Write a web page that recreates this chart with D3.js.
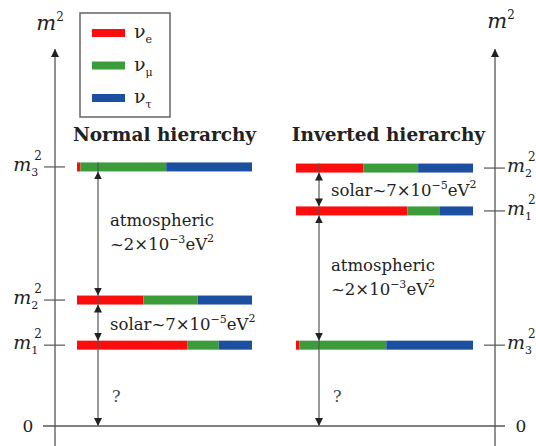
<!DOCTYPE html>
<html>
<head>
<meta charset="utf-8">
<script src="https://cdn.jsdelivr.net/npm/d3@7"></script>
<style>
  body { margin: 0; background: #fff; }
  svg { display: block; font-family: "DejaVu Serif", "Liberation Serif", serif; }
</style>
</head>
<body>
<svg id="chart" width="536" height="446"></svg>
<script>
// flavours and their colours
const flavors = ["e", "μ", "τ"];
const flavorColors = ["#fb0d0d", "#3c9c3c", "#1c4f9f"];

// mass states and flavour content of each one
const states = ["1", "2", "3"];
const m1Mix = [0.63, 0.18, 0.19];
const m2Mix = [0.38, 0.31, 0.31];
const m3Mix = [0.02, 0.49, 0.49];

// m^2 level of each state (arbitrary units, not to scale)
const normalLevels = [2.15, 3.35, 6.89];
const invertedLevels = [5.72, 6.86, 2.15];

// labels of the gaps, bottom to top
const normalGaps = [["?"], ["solar~7×10", "−5"], ["atmospheric", "~2×10", "−3"]];
const invertedGaps = [["?"], ["atmospheric", "~2×10", "−3"], ["solar~7×10", "−5"]];

const mixes = [m1Mix, m2Mix, m3Mix];

const svg = d3.select("#chart");

const y = d3.scaleLinear().domain([0, 10]).range([426, 50]);
const barH = 9;
const textColor = "#222";

// arrow heads
const defs = svg.append("defs");
function marker(id, color, w, h) {
  defs.append("marker")
    .attr("id", id)
    .attr("viewBox", "0 0 10 10")
    .attr("refX", 10).attr("refY", 5)
    .attr("markerWidth", w).attr("markerHeight", h)
    .attr("markerUnits", "userSpaceOnUse")
    .attr("orient", "auto-start-reverse")
    .append("path")
    .attr("d", "M0,0L10,5L0,10Z")
    .attr("fill", color);
}
marker("axisHead", "#222", 9, 8);
marker("gapHead", "#222", 8, 8);

const axisColor = "#555";

// zero line
svg.append("line")
  .attr("x1", 43).attr("x2", 505)
  .attr("y1", y(0)).attr("y2", y(0))
  .attr("stroke", axisColor).attr("stroke-width", 1.3);

// vertical axes
[55, 495].forEach(x => {
  svg.append("line")
    .attr("x1", x).attr("x2", x)
    .attr("y1", 446).attr("y2", 49)
    .attr("stroke", axisColor).attr("stroke-width", 1.3)
    .attr("marker-end", "url(#axisHead)");
});

// m^2 axis titles
function m2Title(x, yy) {
  const t = svg.append("text").attr("x", x).attr("y", yy)
    .attr("text-anchor", "middle")
    .attr("font-size", 21).attr("font-style", "italic").attr("fill", textColor);
  t.append("tspan").text("m");
  t.append("tspan").attr("font-size", 12).attr("dy", -9).attr("font-style", "normal").text("2");
}
m2Title(50, 30);
m2Title(501, 28);

// zero labels
svg.append("text").attr("x", 28).attr("y", y(0) + 6)
  .attr("text-anchor", "middle").attr("font-size", 17).attr("fill", textColor).text("0");
svg.append("text").attr("x", 521).attr("y", y(0) + 6)
  .attr("text-anchor", "middle").attr("font-size", 17).attr("fill", textColor).text("0");

// legend
const legend = svg.append("g");
legend.append("rect")
  .attr("x", 80).attr("y", 13).attr("width", 90).attr("height", 104)
  .attr("fill", "#fff").attr("stroke", "#666").attr("stroke-width", 1.5);
flavors.forEach((f, i) => {
  const ly = 33 + i * 32.5;
  legend.append("rect")
    .attr("x", 92).attr("y", ly - 4).attr("width", 33).attr("height", 8)
    .attr("fill", flavorColors[i]);
  const t = legend.append("text").attr("x", 134).attr("y", ly + 5)
    .attr("font-size", 19).attr("fill", textColor);
  t.append("tspan").text("ν");
  t.append("tspan").attr("font-size", 11).attr("dy", 5).text(f);
});

function stateLabel(x, yy, s, anchor) {
  const t = svg.append("text").attr("x", x).attr("y", yy)
    .attr("text-anchor", anchor).attr("font-size", 19)
    .attr("font-style", "italic").attr("fill", textColor);
  t.append("tspan").text("m");
  t.append("tspan").attr("font-size", 11).attr("dy", 5).attr("font-style", "normal").text(s);
  t.append("tspan").attr("font-size", 12).attr("dy", -16).attr("dx", -4).attr("font-style", "normal").text("2");
}

function supText(t, base, sup) {
  t.append("tspan").text(base);
  t.append("tspan").attr("font-size", 11).attr("dy", -7).text(sup);
  t.append("tspan").attr("dy", 7).text("eV");
  t.append("tspan").attr("font-size", 11).attr("dy", -8).text("2");
}

function drawHierarchy(title, levels, gaps, x0, x1, arrowX, side) {
  const x = d3.scaleLinear().domain([0, 1]).range([x0, x1]);
  const g = svg.append("g");

  g.append("text")
    .attr("x", (x0 + x1) / 2 + (side === "left" ? 0 : 4)).attr("y", 141)
    .attr("text-anchor", "middle")
    .attr("font-size", 18.5).attr("font-weight", "bold").attr("fill", textColor)
    .text(title);

  states.forEach((s, i) => {
    const segs = d3.cumsum(mixes[i]);
    mixes[i].forEach((v, j) => {
      g.append("rect")
        .attr("x", x(segs[j] - v)).attr("width", x(segs[j]) - x(segs[j] - v))
        .attr("y", y(levels[i]) - barH / 2).attr("height", barH)
        .attr("fill", flavorColors[j]);
    });
    // tick on the axis
    const ax = side === "left" ? 55 : 495;
    g.append("line")
      .attr("x1", ax - 11).attr("x2", ax + 10)
      .attr("y1", y(levels[i])).attr("y2", y(levels[i]))
      .attr("stroke", axisColor).attr("stroke-width", 1.2);
    if (side === "left") stateLabel(42, y(levels[i]) + 4, s, "end");
    else stateLabel(507, y(levels[i]) + 4, s, "start");
  });

  // gap arrows, bottom to top
  const sorted = [0].concat(levels.slice().sort(d3.ascending));
  gaps.forEach((lab, k) => {
    const lo = sorted[k], hi = sorted[k + 1];
    const yTop = y(hi) + barH / 2;
    const yBot = lo === 0 ? y(0) : y(lo) - barH / 2;
    g.append("line")
      .attr("x1", arrowX).attr("x2", arrowX)
      .attr("y1", yTop).attr("y2", yBot)
      .attr("stroke", "#777").attr("stroke-width", 1.5)
      .attr("marker-start", lo === 0 ? null : "url(#gapHead)")
      .attr("marker-end", "url(#gapHead)");
    const mid = (yTop + yBot) / 2;
    const tx = arrowX + 12;
    if (lab.length === 1) {
      g.append("text").attr("x", tx + 2).attr("y", mid + 14)
        .attr("font-size", 16).attr("fill", "#444").text(lab[0]);
    } else if (lab.length === 2) {
      const t = g.append("text").attr("x", tx).attr("y", mid + 7)
        .attr("font-size", 16.5).attr("fill", textColor);
      supText(t, lab[0], lab[1]);
    } else {
      g.append("text").attr("x", tx).attr("y", mid - 7)
        .attr("font-size", 16.5).attr("fill", textColor).text(lab[0]);
      const t = g.append("text").attr("x", tx).attr("y", mid + 17)
        .attr("font-size", 16.5).attr("fill", textColor);
      supText(t, lab[1], lab[2]);
    }
  });
  // arrow line also passes under each bar
  sorted.slice(1).forEach(v => {
    g.append("line")
      .attr("x1", arrowX).attr("x2", arrowX)
      .attr("y1", y(v) - barH / 2).attr("y2", y(v) + barH / 2)
      .attr("stroke", "#555").attr("stroke-width", 1.2);
  });
}

drawHierarchy("Normal hierarchy", normalLevels, normalGaps, 77, 252, 98, "left");
drawHierarchy("Inverted hierarchy", invertedLevels, invertedGaps, 296, 473, 319, "right");
</script>
</body>
</html>
